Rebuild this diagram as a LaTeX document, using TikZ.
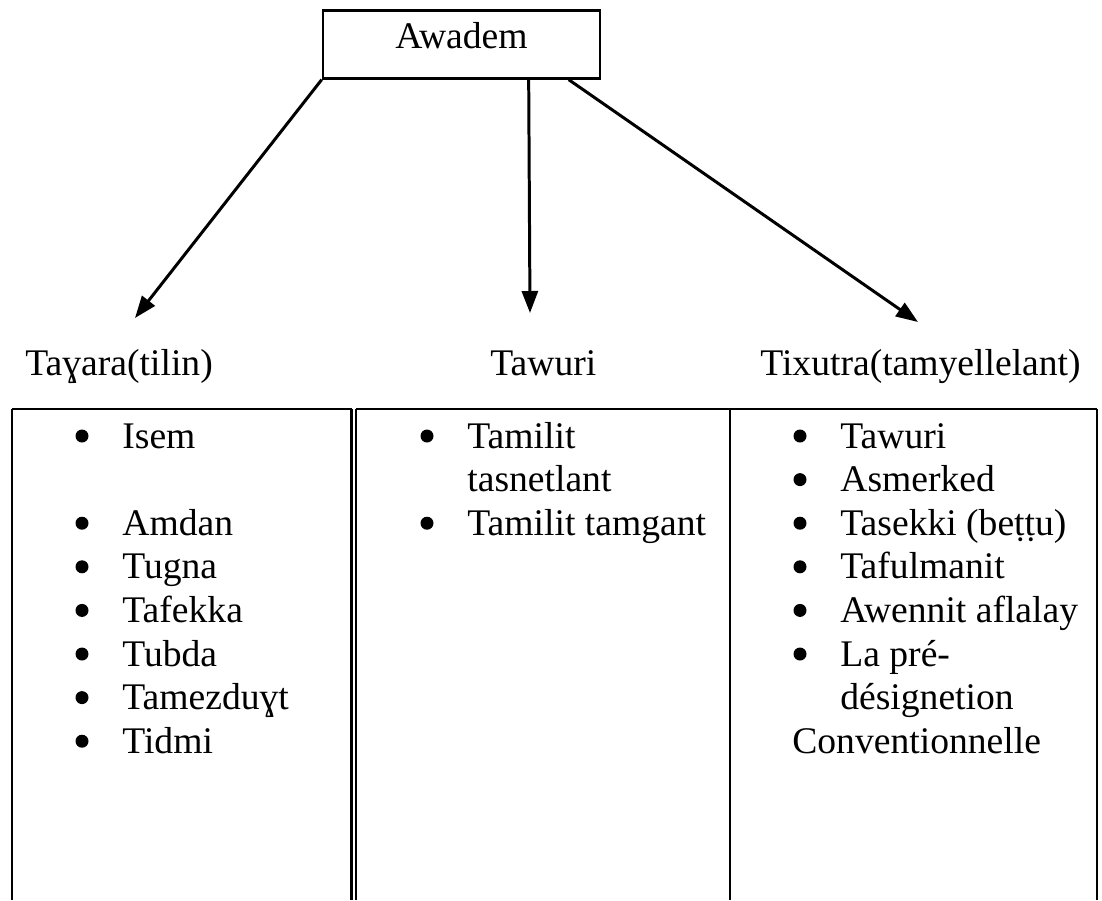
\documentclass[tikz,border=0pt]{standalone}
\usepackage{fontspec}
\setmainfont{Liberation Serif}
\usepackage{tikz}
\usetikzlibrary{calc,arrows.meta}
\def\rowsep{0.872}
\def\toprow{-8.96}
\tikzstyle{arrow} = [line width=1.7pt,-{Triangle[length=0.44cm,width=0.32cm]}]

\begin{document}
\begin{tikzpicture}[every node/.style={font=\fontsize{21.4}{24.7}\selectfont, inner sep=0pt}]
    \tikzstyle{word}=[anchor=base west]
    \tikzstyle{dot}=[circle, fill, minimum size=0.26cm, yshift=0.24cm]
    \tikzstyle{rule}=[line width=1.2pt]
    \tikzstyle{head box}=[draw, line width=1.5pt, minimum width=5.54cm, text height=0.76cm, text depth=0.6cm]

    \useasboundingbox (0,0) rectangle (22.04,-18);

    % Draw the top box
    \node[head box] (top) at (9.23,-0.18) [anchor=north] {Awadem};

    % Draw the three headings
    \node[word] (H-1) at (0.5,-7.5) {Taɣara(tilin)};
    \node[word] (H-2) at (9.8,-7.5) {Tawuri};
    \node[word] (H-3) at (15.2,-7.5) {Tixutra(tamyellelant)};

    % Draw the arrows
    \coordinate (A-1) at ($(top.south west)+(4.14,0)$);
    \coordinate (A-2) at ($(top.south west)+(4.94,0)$);
    \coordinate (T-1) at (2.7,-6.36);
    \coordinate (T-2) at (10.6,-6.26);
    \coordinate (T-3) at (18.36,-6.44);
    \draw[arrow] (top.south west) -- (T-1);
    \draw[arrow] (A-1) -- (T-2);
    \draw[arrow] (A-2) -- (T-3);

    % Draw the table
    \coordinate (R-nw) at (0.24,-8.18);
    \coordinate (R-n1) at (7.03,-8.18);
    \coordinate (R-n2) at (7.12,-8.18);
    \coordinate (R-ne) at (21.94,-8.18);
    \draw[rule] (R-nw) -- (R-n1);
    \draw[rule] (R-n2) -- (R-ne);
    \foreach \x in {0.24,7.03,7.12,14.6,21.94}
        \draw[rule] (\x,-8.18) -- (\x,-18);

    % Draw the first column
    \foreach \name / \row in {Isem/1, Amdan/3, Tugna/4, Tafekka/5, Tubda/6, Tamezduɣt/7, Tidmi/8}
    {
        \node[dot] (D1-\row) at (1.64,{\toprow-\rowsep*(\row-1)}) {};
        \node[word] (C1-\row) at (2.44,{\toprow-\rowsep*(\row-1)}) {\name};
    }

    % Draw the second column
    \foreach \row in {1,3}
        \node[dot] (D2-\row) at (8.54,{\toprow-\rowsep*(\row-1)}) {};
    \node[word] (C2-1) at (9.34,\toprow) {Tamilit};
    \node[word] (C2-2) at (9.34,{\toprow-\rowsep}) {tasnetlant};
    \node[word] (C2-3) at (9.34,{\toprow-2*\rowsep}) {Tamilit tamgant};

    % Draw the third column
    \foreach \name / \row in {Tawuri/1, Asmerked/2, Tasekki (beṭṭu)/3, Tafulmanit/4, Awennit aflalay/5, La pré-/6}
    {
        \node[dot] (D3-\row) at (16.0,{\toprow-\rowsep*(\row-1)}) {};
        \node[word] (C3-\row) at (16.8,{\toprow-\rowsep*(\row-1)}) {\name};
    }
    \node[word] (C3-7) at (16.8,{\toprow-6*\rowsep}) {désignetion};
    \node[word] (C3-8) at (15.84,{\toprow-7*\rowsep}) {Conventionnelle};
\end{tikzpicture}
\end{document}
